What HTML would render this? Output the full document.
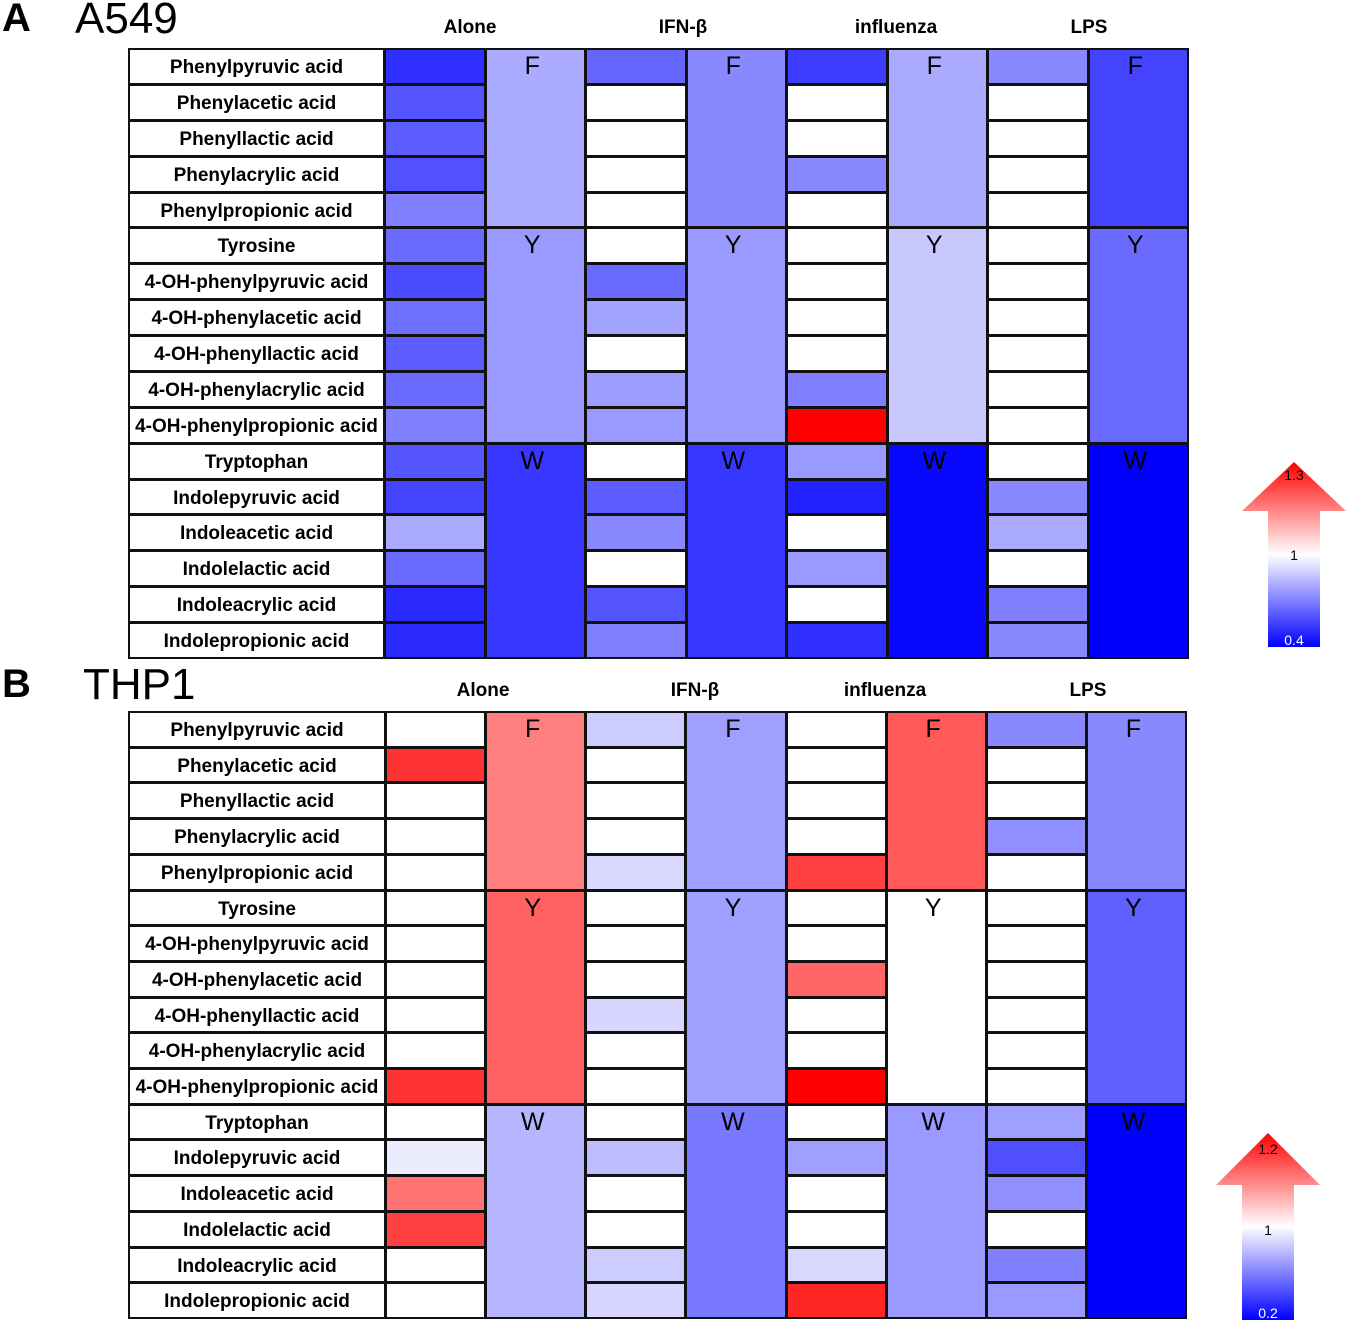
<!DOCTYPE html>
<html><head><meta charset="utf-8"><style>
body{margin:0;width:1350px;height:1328px;background:#fff;position:relative;overflow:hidden;font-family:"Liberation Sans",sans-serif}
.c{position:absolute;box-sizing:border-box}
.t{position:absolute;white-space:nowrap}
</style></head><body>
<div class="t" style="left:2px;top:-4px;font-size:40px;font-weight:bold">A</div>
<div class="t" style="left:75px;top:-6px;font-size:44px">A549</div>
<div class="t" style="left:2px;top:662px;font-size:40px;font-weight:bold">B</div>
<div class="t" style="left:83px;top:660px;font-size:44px">THP1</div>
<svg id="legends" width="1350" height="1328" style="position:absolute;left:0;top:0">
<defs>
<linearGradient id="g1" x1="0" y1="0" x2="0" y2="1"><stop offset="0" stop-color="#f00"/><stop offset="0.5" stop-color="#fff"/><stop offset="1" stop-color="#00f"/></linearGradient>
</defs>
<g>
<polygon points="1294,462 1346,511 1320,511 1320,647 1268,647 1268,511 1242,511" fill="url(#g1)"/>
<text x="1294" y="480" font-size="14" text-anchor="middle" font-family="Liberation Sans">1.3</text>
<text x="1294" y="560" font-size="14" text-anchor="middle" font-family="Liberation Sans">1</text>
<text x="1294" y="645" font-size="14" text-anchor="middle" fill="#fff" font-family="Liberation Sans">0.4</text>
</g>
<g>
<polygon points="1268,1133 1320,1185 1294,1185 1294,1320 1242,1320 1242,1185 1216,1185" fill="url(#g1)"/>
<text x="1268" y="1154" font-size="14" text-anchor="middle" font-family="Liberation Sans">1.2</text>
<text x="1268" y="1235" font-size="14" text-anchor="middle" font-family="Liberation Sans">1</text>
<text x="1268" y="1318" font-size="14" text-anchor="middle" fill="#fff" font-family="Liberation Sans">0.2</text>
</g>
</svg>
<script>
const metabolites=["Phenylpyruvic acid","Phenylacetic acid","Phenyllactic acid","Phenylacrylic acid","Phenylpropionic acid","Tyrosine","4-OH-phenylpyruvic acid","4-OH-phenylacetic acid","4-OH-phenyllactic acid","4-OH-phenylacrylic acid","4-OH-phenylpropionic acid","Tryptophan","Indolepyruvic acid","Indoleacetic acid","Indolelactic acid","Indoleacrylic acid","Indolepropionic acid"];
const conditions=["Alone","IFN-β","influenza","LPS"];
const groups=["F","Y","W"];
const groupRows=[[0,5],[5,11],[11,17]];
// Panel A values (fold change)
const aAlone=[0.51,0.6,0.62,0.59,0.7,0.65,0.58,0.66,0.62,0.65,0.7,0.6,0.56,0.8,0.65,0.5,0.5];
const aIFN=[0.64,1,1,1,1,1,0.65,0.78,1,0.77,0.76,1,0.62,0.72,1,0.6,0.7];
const aFlu=[0.54,1,1,0.72,1,1,1,1,1,0.7,1.3,0.76,0.48,1,0.76,1,0.51];
const aLPS=[0.72,1,1,1,1,1,1,1,1,1,1,1,0.72,0.8,1,0.7,0.72];
const aGroupAlone=[0.8,0.76,0.53];
const aGroupIFN=[0.72,0.76,0.53];
const aGroupFlu=[0.8,0.87,0.42];
const aGroupLPS=[0.56,0.65,0.4];
// Panel B values
const bAlone=[1,1.16,1,1,1,1,1,1,1,1,1.16,1,0.94,1.11,1.15,1,1];
const bIFN=[0.84,1,1,1,0.88,1,1,1,0.87,1,1,1,0.79,1,1,0.84,0.87];
const bFlu=[1,1,1,1,1.15,1,1,1.12,1,1,1.2,1,0.7,1,1,0.88,1.17];
const bLPS=[0.63,1,1,0.65,1,1,1,1,1,1,1,0.7,0.45,0.65,1,0.6,0.68];
const bGroupAlone=[1.1,1.125,0.77];
const bGroupIFN=[0.7,0.7,0.58];
const bGroupFlu=[1.13,1,0.68];
const bGroupLPS=[0.63,0.5,0.2];

function colorFor(v,mn,mx){
  if(v>=1){const t=Math.min(1,(v-1)/(mx-1));const c=Math.round(255*(1-t));return `rgb(255,${c},${c})`;}
  const t=Math.min(1,(1-v)/(1-mn));const c=Math.round(255*(1-t));return `rgb(${c},${c},255)`;
}
function panel(p,cfg){
  const rowH=(cfg.bottom-cfg.top)/17;
  const colW=(cfg.right-cfg.labelR)/8;
  const yOf=i=>cfg.top+i*rowH;
  const xOf=j=>cfg.labelR+j*colW;
  metabolites.forEach((m,i)=>{
    const d=document.createElement('div');d.className='c';
    
    
    d.style.cssText=`left:${cfg.left}px;top:${yOf(i)}px;width:${cfg.labelR-cfg.left+1}px;height:${rowH+1}px;border:2px solid #111;font-weight:bold;font-size:19px;text-align:center;padding-top:3px;line-height:${rowH-6}px;background:#fff`;
    d.textContent=m;document.body.appendChild(d);
  });
  conditions.forEach((c,k)=>{
    const h=document.createElement('div');h.className='t';
    
    
    h.style.cssText=`left:${cfg.heads[k]-60}px;width:120px;text-align:center;top:${cfg.headY}px;font-weight:bold;font-size:19px`;
    h.textContent=c;document.body.appendChild(h);
    const vals=cfg.ind[k];
    vals.forEach((v,i)=>{
      const d=document.createElement('div');d.className='c';
      
      
      d.style.cssText=`left:${xOf(2*k)}px;top:${yOf(i)}px;width:${colW+1}px;height:${rowH+1}px;border:2px solid #111;background:${colorFor(v,cfg.mn,cfg.mx)}`;
      document.body.appendChild(d);
    });
    cfg.grp[k].forEach((v,g)=>{
      const [r0,r1]=groupRows[g];
      const d=document.createElement('div');d.className='c';
      
      
      d.style.cssText=`left:${xOf(2*k+1)}px;top:${yOf(r0)}px;width:${colW+1}px;height:${(r1-r0)*rowH+1}px;border:2px solid #111;background:${colorFor(v,cfg.mn,cfg.mx)};text-align:center;font-size:25px;line-height:32px;padding-right:6px`;
      d.textContent=groups[g];document.body.appendChild(d);
    });
  });
}
panel('a',{left:128,labelR:384,right:1188,top:48,bottom:658,mn:0.4,mx:1.3,headY:17,heads:[470,683,896,1089],
  ind:[aAlone,aIFN,aFlu,aLPS],grp:[aGroupAlone,aGroupIFN,aGroupFlu,aGroupLPS]});
panel('b',{left:128,labelR:385,right:1186,top:711,bottom:1318,mn:0.2,mx:1.2,headY:680,heads:[483,695,885,1088],
  ind:[bAlone,bIFN,bFlu,bLPS],grp:[bGroupAlone,bGroupIFN,bGroupFlu,bGroupLPS]});
</script>
</body></html>
